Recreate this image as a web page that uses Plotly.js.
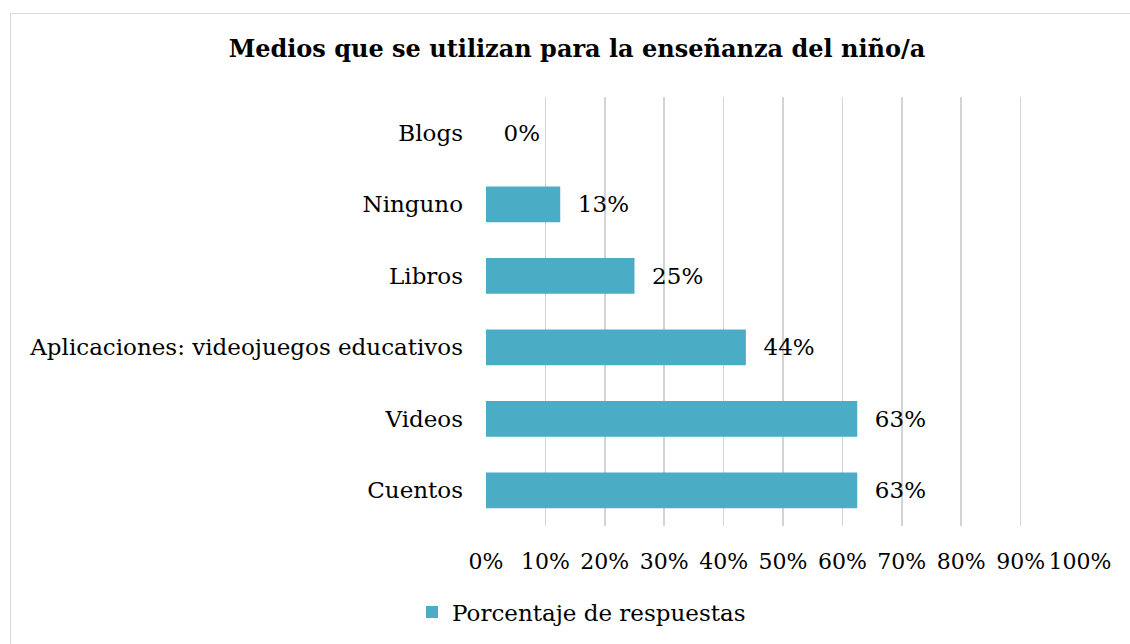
<!DOCTYPE html>
<html>
<head>
<meta charset="utf-8">
<script src="https://cdn.plot.ly/plotly-3.0.1.min.js"></script>
<style>
html,body{margin:0;padding:0;overflow:hidden;background:#fff;}
#chart{width:1130px;height:644px;}
#frame{position:absolute;left:10px;top:13px;width:1200px;height:700px;border:1px solid #d9d9d9;pointer-events:none;}
</style>
</head>
<body>
<div id="chart"></div>
<div id="frame"></div>
<script>
const categories = ["Cuentos", "Videos", "Aplicaciones: videojuegos educativos", "Libros", "Ninguno", "Blogs"];
const values = [0.625, 0.625, 0.4375, 0.25, 0.125, 0];
const valueLabels = ["63%", "63%", "44%", "25%", "13%", "0%"];
const tickValues = [0, 0.1, 0.2, 0.3, 0.4, 0.5, 0.6, 0.7, 0.8, 0.9, 1.0];
const tickLabels = ["0%", "10%", "20%", "30%", "40%", "50%", "60%", "70%", "80%", "90%", "100%"];
const seriesName = "Porcentaje de respuestas";
const chartTitle = "Medios que se utilizan para la enseñanza del niño/a";

const FONT = "Georgia, 'DejaVu Serif', serif";
const SZ = 23;

Plotly.newPlot("chart", [{
  type: "bar",
  orientation: "h",
  y: categories,
  x: values,
  name: seriesName,
  text: valueLabels.map(t => "\u00a0\u00a0" + t),
  textposition: "outside",
  cliponaxis: false,
  textfont: {family: FONT, size: SZ, color: "#000"},
  marker: {color: "#4BACC6", line: {width: 0}},
  hoverinfo: "none"
}], {
  width: 1130,
  height: 644,
  margin: {l: 486, r: 50, t: 97, b: 118},
  paper_bgcolor: "#fff",
  plot_bgcolor: "#fff",
  bargap: 0.5,
  font: {family: FONT, size: SZ, color: "#000"},
  title: {
    text: "<b>" + chartTitle + "</b>",
    font: {family: FONT, size: 24, color: "#000"},
    x: 577/1130, xref: "container", xanchor: "center",
    y: 1 - 49/644, yref: "container", yanchor: "middle"
  },
  xaxis: {
    range: [0, 1],
    tickvals: tickValues,
    ticktext: tickLabels,
    tickangle: 0,
    ticklabeloverflow: "allow",
    showgrid: true,
    gridcolor: "#d4d4d4",
    gridwidth: 1.5,
    zeroline: false,
    showline: false,
    ticks: "",
    ticklabelstandoff: 20,
    tickfont: {family: FONT, size: 22, color: "#000"},
    fixedrange: true
  },
  yaxis: {
    type: "category",
    categoryorder: "array",
    categoryarray: categories,
    showgrid: false,
    zeroline: false,
    showline: false,
    ticks: "",
    ticklabelstandoff: 22,
    tickfont: {family: FONT, size: SZ, color: "#000"},
    fixedrange: true
  },
  showlegend: true,
  legend: {
    orientation: "h",
    x: 412/1130, xref: "container", xanchor: "left",
    y: 1 - 612/644, yref: "container", yanchor: "middle",
    font: {family: FONT, size: SZ, color: "#000"},
    itemwidth: 30
  }
}, {displayModeBar: false, staticPlot: true});
</script>
</body>
</html>
